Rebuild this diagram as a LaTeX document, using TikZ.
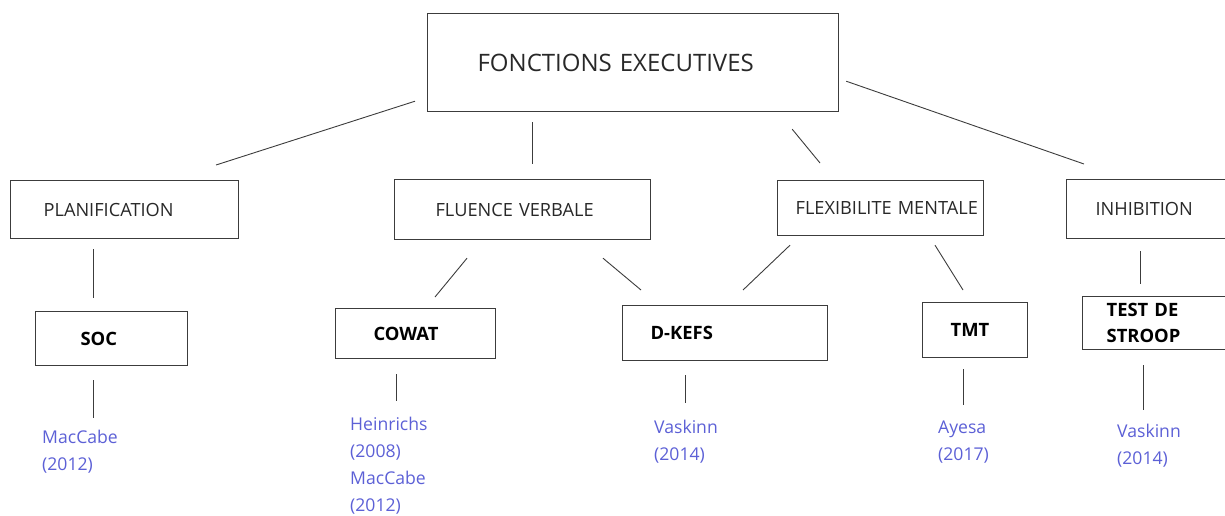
\documentclass[tikz,border=0pt]{standalone}
\usepackage{fontspec}
\setmainfont{Open Sans}
\definecolor{refblue}{RGB}{92,96,214}
\definecolor{boxgray}{RGB}{60,60,60}
\definecolor{txtgray}{RGB}{40,40,40}

\begin{document}
\begin{tikzpicture}[x=1pt,y=-1pt,
  domainbox/.style={draw=boxgray,line width=1.2pt,anchor=north west,inner sep=0pt,align=left,text=txtgray,font=\fontsize{18.2}{26}\selectfont},
  testbox/.style={domainbox,text=black,font=\fontsize{18.4}{26}\selectfont\bfseries},
  refnode/.style={anchor=north west,inner sep=0pt,align=left,text=refblue,font=\fontsize{17.6}{27}\selectfont},
  link/.style={draw=boxgray,line width=0.9pt}]
		\useasboundingbox (0,0) rectangle (1225,515);
		% main box
		\node [domainbox,text width=411pt,minimum height=98pt,font=\fontsize{24}{29}\selectfont] (fe) at (427,13) {\hspace*{50pt}FONCTIONS EXECUTIVES};
		% second row
		\node [domainbox,text width=228pt,minimum height=58pt] (plan) at (10,180) {\hspace*{33pt}PLANIFICATION};
		\node [domainbox,text width=256pt,minimum height=60pt] (fluence) at (394,179) {\hspace*{41pt}FLUENCE VERBALE};
		\node [domainbox,text width=206pt,minimum height=55pt] (flex) at (777,180) {\hspace*{18pt}FLEXIBILITE MENTALE};
		\node [domainbox,text width=180pt,minimum height=59pt] (inhib) at (1066,179) {\hspace*{29pt}INHIBITION};
		% tests
		\node [testbox,text width=152pt,minimum height=54pt] (soc) at (35,311) {\hspace*{45pt}SOC};
		\node [testbox,text width=160pt,minimum height=50pt] (cowat) at (335,308) {\hspace*{38pt}COWAT};
		\node [testbox,text width=205pt,minimum height=55pt] (dkefs) at (622,305) {\hspace*{28pt}D-KEFS};
		\node [testbox,text width=105pt,minimum height=55pt] (tmt) at (922,302) {\hspace*{28pt}TMT};
		\node [testbox,text width=170pt,minimum height=53pt] (stroop) at (1082,296) {\hspace*{24pt}TEST DE\\\hspace*{24pt}STROOP};
		% references
		\node [refnode] (r1) at (42,430) {MacCabe\\(2012)};
		\node [refnode] (r2) at (350,417) {Heinrichs\\(2008)\\MacCabe\\(2012)};
		\node [refnode] (r3) at (654,420) {Vaskinn\\(2014)};
		\node [refnode] (r4) at (938,421) {Ayesa\\(2017)};
		\node [refnode] (r5) at (1117,424) {Vaskinn\\(2014)};
		% links
		\draw [link] ([shift={(-12,-11)}]fe.south west) -- ([shift={(206,-15)}]plan.north west);
		\draw [link] ([shift={(105,10)}]fe.south west) -- ([shift={(138,-15)}]fluence.north west);
		\draw [link] ([shift={(-47,17)}]fe.south east) -- ([shift={(43,-17)}]flex.north west);
		\draw [link] ([shift={(7,-31)}]fe.south east) -- ([shift={(18,-15)}]inhib.north west);
		\draw [link] ([shift={(83,10)}]plan.south west) -- ([shift={(58,-13)}]soc.north west);
		\draw [link] ([shift={(73,18)}]fluence.south west) -- ([shift={(100,-11)}]cowat.north west);
		\draw [link] ([shift={(209,18)}]fluence.south west) -- ([shift={(19,-15)}]dkefs.north west);
		\draw [link] ([shift={(13,9)}]flex.south west) -- ([shift={(121,-15)}]dkefs.north west);
		\draw [link] ([shift={(158,9)}]flex.south west) -- ([shift={(41,-12)}]tmt.north west);
		\draw [link] ([shift={(74,12)}]inhib.south west) -- ([shift={(58,-12)}]stroop.north west);
		\draw [link] ([shift={(58,14)}]soc.south west) -- ([shift={(51,-12)}]r1.north west);
		\draw [link] ([shift={(61,15)}]cowat.south west) -- ([shift={(46,-16)}]r2.north west);
		\draw [link] ([shift={(63,14)}]dkefs.south west) -- ([shift={(31,-17)}]r3.north west);
		\draw [link] ([shift={(41,11)}]tmt.south west) -- ([shift={(25,-16)}]r4.north west);
		\draw [link] ([shift={(61,15)}]stroop.south west) -- ([shift={(26,-14)}]r5.north west);
	\end{tikzpicture}
\end{document}
